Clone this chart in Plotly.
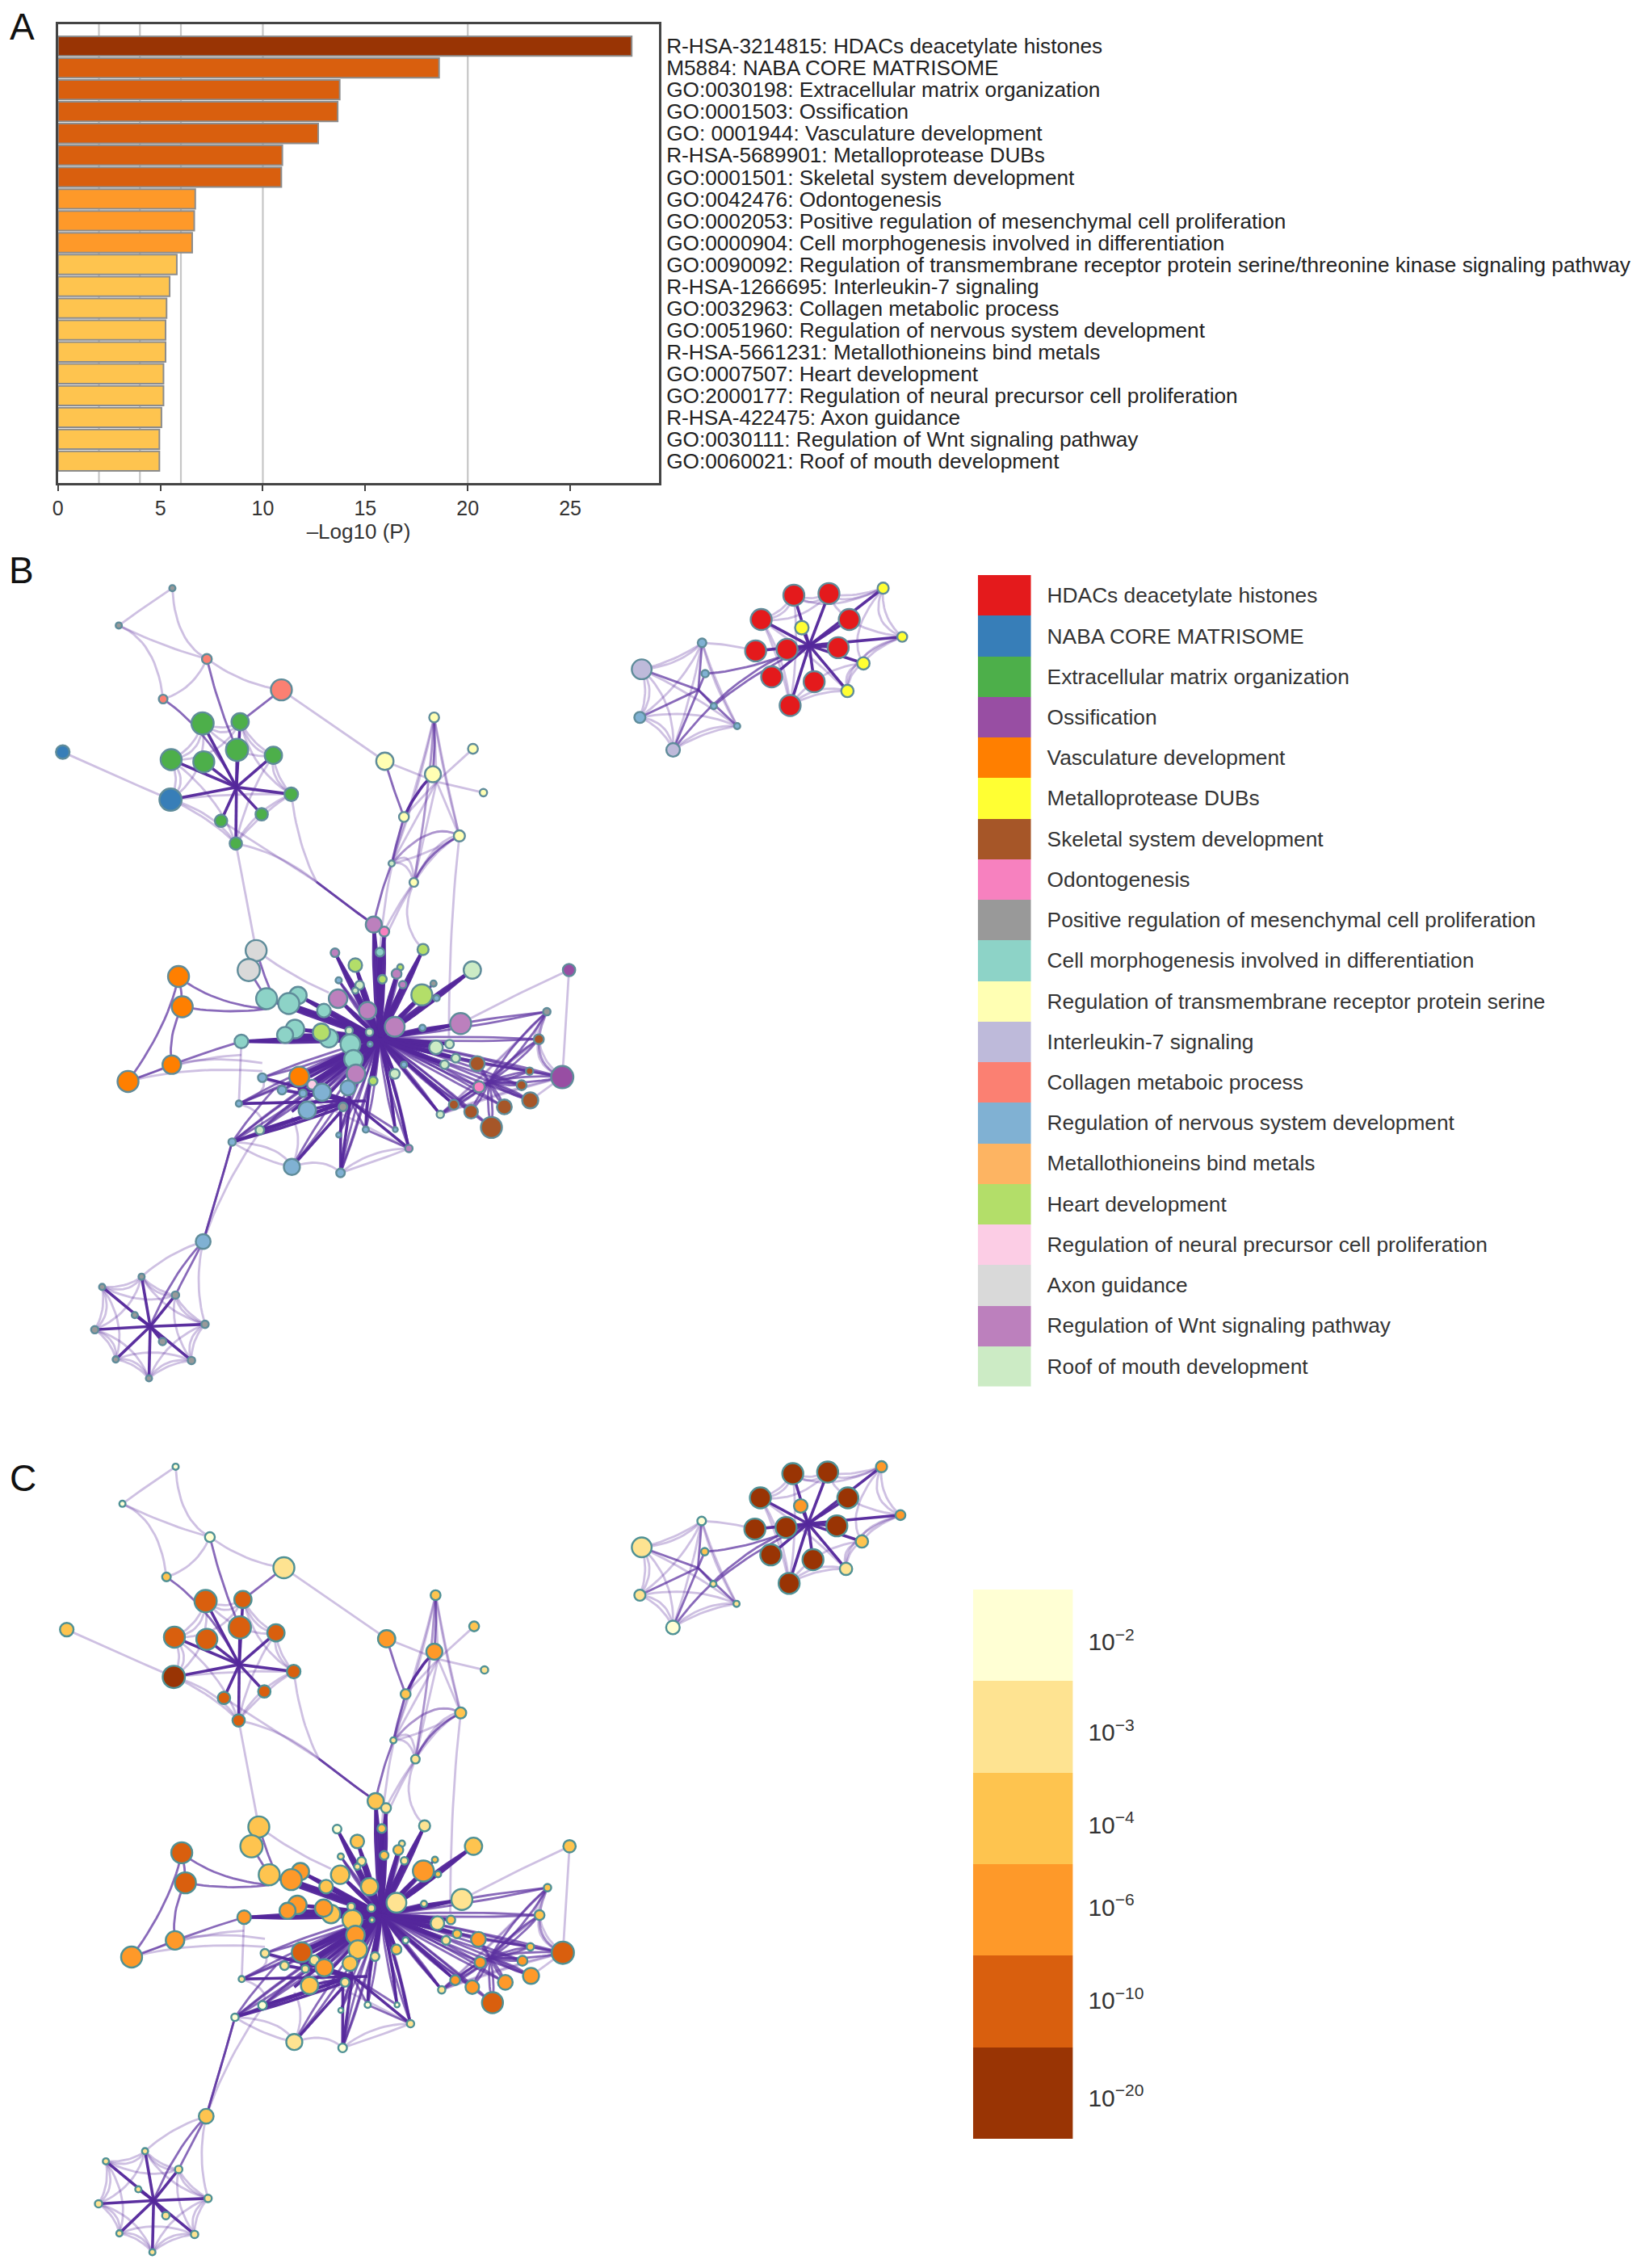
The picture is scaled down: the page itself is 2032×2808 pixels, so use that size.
import math
import plotly.graph_objects as go

# ---------- Panel A ----------
term_labels = [
    "R-HSA-3214815: HDACs deacetylate histones", "M5884: NABA CORE MATRISOME",
    "GO:0030198: Extracellular matrix organization", "GO:0001503: Ossification",
    "GO: 0001944: Vasculature development", "R-HSA-5689901: Metalloprotease DUBs",
    "GO:0001501: Skeletal system development", "GO:0042476: Odontogenesis",
    "GO:0002053: Positive regulation of mesenchymal cell proliferation",
    "GO:0000904: Cell morphogenesis involved in differentiation",
    "GO:0090092: Regulation of transmembrane receptor protein serine/threonine kinase signaling pathway",
    "R-HSA-1266695: Interleukin-7 signaling", "GO:0032963: Collagen metabolic process",
    "GO:0051960: Regulation of nervous system development", "R-HSA-5661231: Metallothioneins bind metals",
    "GO:0007507: Heart development", "GO:2000177: Regulation of neural precursor cell proliferation",
    "R-HSA-422475: Axon guidance", "GO:0030111: Regulation of Wnt signaling pathway",
    "GO:0060021: Roof of mouth development",
]
log_p = [28.0, 18.6, 13.75, 13.65, 12.7, 10.95, 10.9, 6.7, 6.65, 6.55, 5.8, 5.45, 5.3, 5.25, 5.25, 5.15, 5.15, 5.05, 4.95, 4.95]
bar_level = [5, 4, 4, 4, 4, 4, 4, 3, 3, 3, 2, 2, 2, 2, 2, 2, 2, 2, 2, 2]
x_ticks = [0, 5, 10, 15, 20, 25]
grid_values = [2, 4, 6, 10, 20]

# ---------- Legends ----------
legend_terms = [
    "HDACs deacetylate histones", "NABA CORE MATRISOME", "Extracellular matrix organization", "Ossification",
    "Vasculature development", "Metalloprotease DUBs", "Skeletal system development", "Odontogenesis",
    "Positive regulation of mesenchymal cell proliferation", "Cell morphogenesis involved in differentiation",
    "Regulation of transmembrane receptor protein serine", "Interleukin-7 signaling", "Collagen metaboic process",
    "Regulation of nervous system development", "Metallothioneins bind metals", "Heart development",
    "Regulation of neural precursor cell proliferation", "Axon guidance", "Regulation of Wnt signaling pathway",
    "Roof of mouth development",
]
term_colors = ["#E41A1C", "#377EB8", "#4DAF4A", "#984EA3", "#FF7F00", "#FFFF33", "#A65628", "#F781BF", "#999999", "#8DD3C7",
               "#FFFFB3", "#BEBADA", "#FB8072", "#80B1D3", "#FDB462", "#B3DE69", "#FCCDE5", "#D9D9D9", "#BC80BD", "#CCEBC5"]
level_labels = ["10<sup>\u22122</sup>", "10<sup>\u22123</sup>", "10<sup>\u22124</sup>", "10<sup>\u22126</sup>", "10<sup>\u221210</sup>", "10<sup>\u221220</sup>"]
level_ticks = [0.07, 1.06, 2.07, 2.97, 3.99, 5.05]
level_colors = ["#FFFFD4", "#FEE391", "#FEC44F", "#FE9929", "#D95F0E", "#993404"]

# ---------- Network (shared layout units) ----------
hub_x = [1310, 1130, 380, 705, 612, 565, 790, 240]
hub_y = [178, 260, 440, 430, 905, 1020, 985, 1437]
hub_spoke = [2, 1, 2, 0, 2, 1, 1, 2]

node_x = [
    1285, 1342, 1232, 1375, 1223, 1274, 1357, 1249, 1318, 1279, 1298, 1430, 1461, 1398, 1372,
    1038, 1136, 1141, 1035, 1089, 1155, 1193,
    325, 386, 274, 327, 381, 440, 273, 469, 421, 355, 379,
    621, 701, 764, 781, 699, 742, 652, 632, 668,
    603, 620, 540, 613, 683, 573, 763, 617, 646, 640, 580, 573, 546, 650, 700, 705,
    429, 480, 465, 475, 459, 388, 530, 518, 522, 545, 593, 637, 681, 744, 565, 570, 574, 482, 503,
    596, 597, 563, 682, 704, 726, 736, 718, 602, 637, 652,
    519, 561, 495, 553, 422, 454, 488, 384, 418, 373, 546, 590, 638, 470, 549, 660,
    771, 774, 733, 711, 761, 815, 857, 794, 843, 856, 871, 884, 909,
    226, 162, 281, 215, 329, 150, 260, 184, 307, 238,
    276, 189, 332, 261, 453, 98, 920, 286, 292, 275, 204, 412, 400, 326,
]
node_y = [
    85, 82, 130, 130, 188, 185, 182, 236, 245, 289, 145, 72, 162, 211, 262,
    222, 173, 230, 311, 371, 290, 327,
    322, 319, 389, 393, 371, 381, 463, 453, 490, 502, 544,
    392, 311, 369, 450, 416, 530, 495, 581, 616,
    694, 707, 746, 745, 740, 769, 778, 795, 773, 785, 806, 816, 797, 805, 803, 830,
    831, 825, 840, 887, 898, 910, 904, 893, 853, 831, 853, 883, 824, 877, 915, 943, 970, 975, 990,
    893, 915, 890, 885, 921, 915, 941, 953, 983, 970, 953,
    1004, 996, 1037, 1031, 977, 1000, 1006, 1025, 1074, 1096, 1083, 1073, 1073, 1142, 1153, 1108,
    951, 994, 1027, 1045, 1040, 1031, 1019, 1069, 991, 965, 906, 855, 976,
    1345, 1364, 1379, 1416, 1433, 1443, 1465, 1498, 1500, 1533,
    72, 141, 203, 277, 260, 375, 778, 790, 846, 953, 984, 742, 778, 1280,
]
node_r = [
    17, 17, 17, 17, 17, 17, 17, 17, 17, 17, 11, 9, 8, 10, 10,
    16, 7, 6, 9, 11, 5, 5,
    18, 14, 17, 17, 18, 14, 18, 11, 10, 10, 10,
    14, 8, 8, 6, 13, 9, 8, 5, 7,
    13, 8, 7, 7, 9, 11, 14, 7, 5, 8, 7, 5, 5, 6, 5, 5,
    17, 14, 17, 15, 13, 11, 15, 14, 11, 15, 14, 16, 17, 17, 16, 15, 15, 16, 8,
    6, 4, 6, 5, 11, 7, 7, 7, 7, 8, 5,
    14, 12, 14, 7, 7, 7, 6, 5, 7, 6, 4, 5, 4, 13, 7, 6,
    12, 9, 8, 6, 11, 12, 13, 17, 8, 6, 8, 6, 18,
    5, 5, 6, 5, 6, 6, 6, 5, 6, 5,
    5, 5, 8, 7, 17, 11, 10, 17, 17, 15, 17, 17, 18, 12,
]
node_term = [
    0, 0, 0, 0, 0, 0, 0, 0, 0, 0, 5, 5, 5, 5, 5,
    11, 13, 13, 13, 11, 13, 13,
    2, 2, 2, 2, 2, 2, 1, 2, 2, 2, 2,
    10, 10, 10, 10, 10, 10, 10, 19, 10,
    18, 7, 18, 9, 15, 15, 19, 15, 15, 18, 19, 19, 13, 18, 8, 13,
    9, 9, 9, 9, 9, 9, 9, 15, 9, 18, 18, 18, 15, 18, 9, 9, 18, 4, 16,
    19, 13, 19, 13, 19, 19, 19, 19, 15, 19, 13,
    13, 13, 13, 8, 13, 13, 13, 13, 19, 13, 13, 13, 13, 13, 13, 18,
    6, 7, 6, 19, 6, 6, 6, 6, 6, 6, 6, 8, 3,
    8, 8, 8, 8, 8, 8, 8, 8, 8, 8,
    8, 8, 12, 12, 12, 1, 3, 4, 4, 4, 4, 17, 17, 13,
]
node_level = [
    5, 5, 5, 5, 5, 5, 5, 5, 5, 5, 3, 3, 3, 2, 1,
    1, 0, 2, 1, 0, 1, 1,
    4, 4, 4, 4, 4, 4, 5, 4, 4, 4, 4,
    3, 2, 2, 1, 3, 2, 2, 1, 1,
    2, 1, 0, 2, 1, 2, 2, 2, 1, 2, 1, 1, 1, 1, 2, 2,
    2, 3, 3, 3, 3, 3, 2, 3, 2, 2, 2, 1, 3, 1, 2, 3, 2, 4, 1,
    1, 1, 1, 1, 1, 2, 2, 1, 1, 2, 0,
    3, 2, 2, 1, 1, 1, 1, 1, 0, 0, 0, 0, 0, 1, 0, 1,
    3, 3, 3, 1, 3, 3, 3, 4, 3, 2, 2, 2, 4,
    1, 1, 1, 1, 1, 1, 1, 1, 1, 1,
    0, 0, 0, 2, 1, 2, 2, 4, 4, 3, 3, 2, 2, 2,
]
node_hub = [0] * 15 + [1] * 7 + [2] * 11 + [3] * 9 + [4] * 46 + [5] * 16 + [6] * 13 + [7] * 10 + [-1] * 14

# (x0, y0, cx, cy, x1, y1, weight)
bridge_edges = [
    (98, 375, 185, 420, 273, 463, 0), (453, 260, 535, 325, 621, 392, 0), (453, 260, 420, 290, 386, 319, 1),
    (332, 203, 390, 250, 453, 260, 0), (276, 72, 232, 105, 189, 141, 0), (189, 141, 250, 170, 261, 277, 0),
    (276, 72, 280, 170, 332, 203, 0), (189, 141, 260, 180, 332, 203, 0), (261, 277, 310, 260, 332, 203, 0),
    (332, 203, 350, 290, 381, 371, 1), (261, 277, 330, 330, 380, 440, 1), (379, 544, 395, 640, 412, 742, 0),
    (379, 544, 450, 560, 510, 615, 0), (355, 502, 420, 550, 510, 615, 0), (469, 453, 480, 550, 510, 615, 0),
    (510, 615, 555, 655, 603, 694, 1), (510, 615, 555, 655, 603, 694, 1), (652, 495, 640, 540, 632, 581, 1),
    (632, 581, 612, 640, 603, 694, 1), (652, 495, 620, 620, 613, 745, 0), (668, 616, 640, 660, 620, 707, 0),
    (668, 616, 630, 690, 613, 745, 0), (742, 530, 690, 560, 668, 616, 1), (742, 530, 680, 570, 632, 581, 0),
    (742, 530, 725, 700, 725, 900, 0), (668, 616, 640, 690, 683, 740, 0), (412, 742, 425, 790, 440, 830, 1),
    (400, 778, 415, 805, 429, 831, 1), (412, 742, 470, 790, 530, 820, 0),
    (699, 416, 670, 450, 652, 495, 2), (701, 311, 703, 365, 699, 416, 1), (621, 392, 635, 445, 652, 495, 1),
    (204, 984, 240, 970, 275, 953, 1), (275, 953, 268, 900, 292, 846, 1), (286, 790, 292, 820, 292, 846, 1),
    (204, 984, 270, 880, 286, 790, 1), (292, 846, 360, 860, 429, 850, 1), (286, 790, 340, 840, 429, 850, 1),
    (275, 953, 330, 930, 388, 910, 1), (204, 984, 300, 940, 388, 935, 0), (275, 953, 340, 935, 422, 950, 0),
    (204, 984, 300, 955, 422, 965, 0), (388, 910, 500, 905, 612, 905, 2), (388, 910, 385, 1000, 384, 1025, 0),
    (326, 1280, 350, 1190, 373, 1096, 1), (326, 1280, 350, 1190, 373, 1096, 1), (373, 1096, 400, 1050, 440, 1000, 1),
    (326, 1280, 360, 1170, 420, 1074, 0), (326, 1280, 275, 1340, 240, 1437, 1), (326, 1280, 270, 1300, 226, 1345, 0),
    (326, 1280, 300, 1335, 281, 1379, 1), (326, 1280, 310, 1360, 329, 1433, 0), (920, 778, 830, 825, 744, 877, 0),
    (920, 778, 915, 880, 909, 976, 0), (909, 976, 840, 960, 771, 951, 1), (909, 976, 880, 1000, 857, 1019, 0),
    (1310, 178, 1210, 235, 1155, 290, 1), (1310, 178, 1190, 220, 1089, 371, 1), (1310, 178, 1215, 225, 1141, 230, 1),
    (1136, 173, 1180, 175, 1223, 188, 0), (373, 1096, 460, 1070, 553, 1031, 2), (384, 1025, 490, 1022, 590, 1020, 2),
    (418, 1074, 490, 1050, 560, 1020, 1), (470, 1142, 490, 1090, 470, 1050, 0), (470, 1142, 420, 1130, 373, 1096, 0),
    (549, 1153, 550, 1090, 549, 1020, 2), (549, 1153, 610, 1130, 660, 1108, 0), (590, 1073, 625, 1090, 660, 1108, 1),
    (549, 1153, 590, 1020, 612, 905, 1), (590, 1073, 590, 1000, 612, 905, 2), (373, 1096, 480, 1000, 612, 905, 1),
    (384, 1025, 500, 970, 612, 905, 1), (418, 1074, 510, 990, 612, 905, 1), (660, 1108, 640, 1000, 612, 905, 2),
    (638, 1073, 630, 990, 612, 905, 2), (711, 1045, 660, 975, 612, 905, 2), (733, 1027, 670, 965, 612, 905, 2),
    (480, 1000, 550, 950, 612, 905, 2), (470, 1040, 540, 975, 612, 905, 2), (500, 975, 560, 940, 612, 905, 2),
    (520, 1020, 570, 960, 612, 905, 2), (465, 980, 540, 945, 612, 905, 2),
]


def bezier(x0, y0, cx, cy, x1, y1, n=14):
    xs, ys = [], []
    for i in range(n + 1):
        t = i / n
        xs.append((1 - t) ** 2 * x0 + 2 * t * (1 - t) * cx + t * t * x1)
        ys.append((1 - t) ** 2 * y0 + 2 * t * (1 - t) * cy + t * t * y1)
    return xs + [None], ys + [None]


edge_bins = {0: ([], []), 1: ([], []), 2: ([], [])}


def add_edge(x0, y0, cx, cy, x1, y1, w):
    a, b = bezier(x0, y0, cx, cy, x1, y1)
    edge_bins[w][0].extend(a)
    edge_bins[w][1].extend(b)


def bundle(x, y, hx, hy, w, spread):
    mx, my = (x + hx) / 2, (y + hy) / 2
    nx, ny = -(hy - y), hx - x
    for s in spread:
        add_edge(x, y, mx + nx * s, my + ny * s, hx, hy, w)


# spokes to the hub of each group
for x, y, h, r in zip(node_x, node_y, node_hub, node_r):
    if h < 0:
        continue
    w = hub_spoke[h]
    if h == 4:
        bundle(x, y, hub_x[4], hub_y[4], 2 if r >= 6 else 1, (-0.035, 0.0, 0.035))
    elif h == 5:
        bundle(x, y, hub_x[5], hub_y[5], 2 if r >= 6 else 1, (0.0,))
        bundle(x, y, hub_x[4], hub_y[4], 1, (-0.04, 0.04))
    elif h == 6:
        bundle(x, y, hub_x[6], hub_y[6], 1, (-0.08, 0.08))
        bundle(x, y, hub_x[4], hub_y[4], 1, (-0.03, 0.03))
    else:
        bundle(x, y, hub_x[h], hub_y[h], w, (0.0,))

# petals: pale curves between angular neighbours of each group
for h, (hx, hy) in enumerate(zip(hub_x, hub_y)):
    if h == 4:
        continue
    pts = [(x, y) for x, y, g in zip(node_x, node_y, node_hub) if g == h]
    far = max(math.hypot(x - hx, y - hy) for x, y in pts)
    ring = sorted([p for p in pts if math.hypot(p[0] - hx, p[1] - hy) > 0.55 * far],
                  key=lambda p: math.atan2(p[1] - hy, p[0] - hx))
    m = len(ring)
    passes = ((1, 0.2),) if h == 5 else ((1, 0.15), (1, 0.3), (2, 0.45))
    for i in range(m):
        for step, pull in passes:
            a, b = ring[i], ring[(i + step) % m]
            mx, my = (a[0] + b[0]) / 2, (a[1] + b[1]) / 2
            add_edge(a[0], a[1], mx + (hx - mx) * pull, my + (hy - my) * pull, b[0], b[1], 0)

for e in bridge_edges:
    add_edge(*e)

edge_styles = {0: ("rgba(92,48,160,0.3)", 2.8), 1: ("rgba(92,48,160,0.72)", 2.8), 2: ("rgba(84,40,155,0.96)", 3.6)}

PX_PER_UNIT = 1 / 1.307


def network(xa, ya, colors, outline):
    traces = []
    for w in (0, 1, 2):
        col, wid = edge_styles[w]
        traces.append(go.Scatter(x=edge_bins[w][0], y=edge_bins[w][1], mode="lines", xaxis=xa, yaxis=ya,
                                 line=dict(color=col, width=wid), hoverinfo="skip", showlegend=False))
    traces.append(go.Scatter(x=node_x, y=node_y, mode="markers", xaxis=xa, yaxis=ya, showlegend=False,
                             marker=dict(size=[2 * r * PX_PER_UNIT for r in node_r], color=colors,
                                         line=dict(color=outline, width=2.4), opacity=1)))
    return traces


fig = go.Figure()

# Panel A bars
fig.add_trace(go.Bar(y=term_labels, x=log_p, orientation="h", xaxis="x", yaxis="y", showlegend=False,
                     marker=dict(color=[level_colors[i] for i in bar_level], line=dict(color="#8c8c8c", width=2))))

# Panels B and C
for t in network("x2", "y2", [term_colors[i] for i in node_term], "#5f8c9a"):
    fig.add_trace(t)
for t in network("x4", "y4", [level_colors[i] for i in node_level], "#4f9195"):
    fig.add_trace(t)

# Legend swatches
fig.add_trace(go.Heatmap(z=[[i] for i in range(len(legend_terms))], x=[0], y=legend_terms, xaxis="x3", yaxis="y3",
                         zmin=0, zmax=len(legend_terms) - 1, showscale=False,
                         colorscale=[[i / (len(term_colors) - 1), c] for i, c in enumerate(term_colors)]))
fig.add_trace(go.Heatmap(z=[[i] for i in range(len(level_labels))], x=[0], y=list(range(len(level_labels))), xaxis="x5", yaxis="y5",
                         zmin=0, zmax=len(level_labels) - 1, showscale=False,
                         colorscale=[[i / (len(level_colors) - 1), c] for i, c in enumerate(level_colors)]))

W, H = 2032, 2808
FONT = "Liberation Sans"


def dx(a, b):
    return [a / W, b / W]


def dy(top, bottom):
    return [1 - bottom / H, 1 - top / H]


hidden = dict(visible=False, fixedrange=True, showgrid=False, zeroline=False)

fig.update_layout(
    width=W, height=H, margin=dict(l=0, r=0, t=0, b=0), paper_bgcolor="white", plot_bgcolor="white",
    font=dict(family=FONT, color="#222222"), bargap=0.1,
    xaxis=dict(domain=dx(65, 812), range=[0, 29.34], anchor="y", tickvals=x_ticks, ticks="outside", ticklen=7,
               tickwidth=2, tickcolor="#444444", showline=True, mirror=True, linecolor="#444444", linewidth=2.5,
               showgrid=False, zeroline=False, tickfont=dict(size=25, color="#333333"),
               title=dict(text="\u2013Log10 (P)", font=dict(size=26, color="#333333"), standoff=8)),
    yaxis=dict(domain=dy(30, 598), range=[19 + 1.0, -1.0], anchor="x", side="right", type="category",
               categoryorder="array", categoryarray=term_labels, tickmode="array", tickvals=term_labels,
               showline=True, mirror=True, linecolor="#444444",
               linewidth=2.5, ticks="", showgrid=False, zeroline=False, ticklabelstandoff=1,
               tickfont=dict(size=26.2, color="#222222")),
    xaxis2=dict(domain=dx(0, 1200), range=[5.3, 1573.3], anchor="y2", **hidden),
    yaxis2=dict(domain=dy(680, 1730), range=[1568, 0], anchor="x2", **hidden),
    xaxis4=dict(domain=dx(0, 1200), range=[-1.9, 1577], anchor="y4", **hidden),
    yaxis4=dict(domain=dy(1760, 2808), range=[1562.4, -12], anchor="x4", **hidden),
    xaxis3=dict(domain=dx(1208, 1274), anchor="y3", **hidden),
    yaxis3=dict(domain=dy(712, 1716.5), anchor="x3", autorange="reversed", side="right", type="category", ticks="",
                tickmode="array", tickvals=legend_terms, ticklabelstandoff=19, showline=False, showgrid=False,
                zeroline=False, tickfont=dict(size=26.3, color="#333333")),
    xaxis5=dict(domain=dx(1202, 1326), anchor="y5", **hidden),
    yaxis5=dict(domain=dy(1968, 2648), anchor="x5", autorange="reversed", side="right", ticks="",
                tickmode="array", tickvals=level_ticks, ticktext=level_labels, ticklabelstandoff=18, showline=False,
                showgrid=False, zeroline=False, tickfont=dict(size=30, color="#333333")),
    shapes=[dict(type="line", xref="x", yref="y domain", x0=v, x1=v, y0=0, y1=1, layer="below",
                 line=dict(color="#c6c6c6", width=2.2)) for v in grid_values],
    annotations=[
        dict(text=s, x=px / W, y=1 - py / H, xref="paper", yref="paper", showarrow=False, xanchor="center",
             yanchor="middle", font=dict(size=46, color="#111111", family=FONT))
        for s, px, py in [("A", 21, 33), ("B", 20, 706), ("C", 22, 1830)]
    ],
)

fig.write_html("out.html", config={"displayModeBar": False},
               post_script="document.body.style.margin='0';document.documentElement.style.margin='0';")
